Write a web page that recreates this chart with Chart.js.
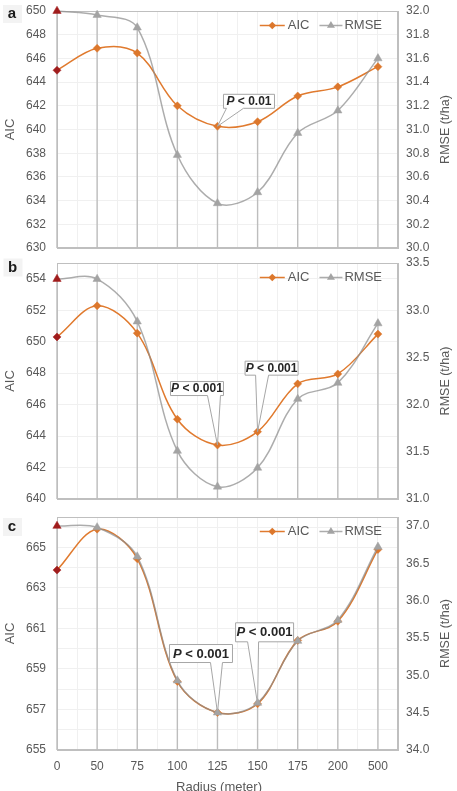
<!DOCTYPE html>
<html><head><meta charset="utf-8">
<script src="https://cdn.jsdelivr.net/npm/chart.js@4.4.1/dist/chart.umd.min.js"></script>
<style>
html,body{margin:0;padding:0;background:#fff;width:457px;height:791px;overflow:hidden}
canvas{position:absolute;left:0}
</style></head><body>
<canvas id="ca" width="457" height="256" style="top:0px"></canvas>
<canvas id="cb" width="457" height="252" style="top:256px"></canvas>
<canvas id="cc" width="457" height="283" style="top:508px"></canvas>
<script>
// ---- data ----
const radiusLabels = ['0', '50', '75', '100', '125', '150', '175', '200', '500'];
const aicA  = [645.0, 646.85, 646.45, 642.0, 640.27, 640.66, 642.83, 643.6, 645.3];
const rmseA = [32.0, 31.966, 31.86, 30.785, 30.377, 30.47, 30.97, 31.16, 31.6];
const aicB  = [650.3, 652.28, 650.54, 645.07, 643.43, 644.28, 647.32, 647.95, 650.48];
const rmseB = [33.33, 33.33, 32.88, 31.51, 31.13, 31.33, 32.06, 32.23, 32.86];
const aicC  = [663.88, 665.9, 664.44, 658.38, 656.85, 657.28, 660.41, 661.35, 664.9];
const rmseC = [37.0, 36.98, 36.59, 34.93, 34.5, 34.63, 35.46, 35.74, 36.72];
const seriesNames = ['AIC', 'RMSE'];
const pTextA = ['P', ' < 0.01'];
const pTextB = ['P', ' < 0.001'];

// ---- style ----
const FONT = '"Liberation Sans", Arial, Helvetica, sans-serif';
const TXT = '#595959';
const ORANGE = '#E07A2E';
const ORANGE_PT = '#DC772C';
const GRAY_LINE = 'rgba(140,140,140,0.72)';
const GRAY_PT = '#a3a3a3';
const DARKRED = '#A01C1C';
const GRID = '#f0f0f0';
const FRAME = '#bfbfbf';

function diamond(ctx, x, y, r, c) {
  ctx.beginPath(); ctx.moveTo(x - r, y); ctx.lineTo(x, y - r); ctx.lineTo(x + r, y); ctx.lineTo(x, y + r);
  ctx.closePath(); ctx.fillStyle = c; ctx.fill();
}
function triangle(ctx, x, y, r, c) {
  ctx.beginPath();
  for (let k = 0; k < 3; k++) {
    const a = k * 2 * Math.PI / 3;
    const px = x + Math.sin(a) * r, py = y - Math.cos(a) * r;
    k ? ctx.lineTo(px, py) : ctx.moveTo(px, py);
  }
  ctx.closePath(); ctx.fillStyle = c; ctx.fill();
}
function noPad(s) { s.paddingTop = 0; s.paddingBottom = 0; s.paddingLeft = 0; s.paddingRight = 0; }

function makePanel(cfg) {
  const canvas = document.getElementById(cfg.id);
  const decor = {
    id: 'decor',
    beforeDatasetsDraw(chart) {
      const {ctx, chartArea: a, scales: {x, y, y2}} = chart;
      ctx.save();
      // frame
      ctx.strokeStyle = FRAME; ctx.lineWidth = 1;
      ctx.strokeRect(Math.round(a.left) + 0.5, Math.round(a.top) + 0.5, Math.round(a.right - a.left) - 1, Math.round(a.bottom - a.top) - 1);
      // drop lines
      ctx.strokeStyle = '#bdbdbd'; ctx.lineWidth = 1.4;
      cfg.aic.forEach((v, i) => {
        const px = x.getPixelForValue(i);
        const top = Math.min(y.getPixelForValue(v), y2.getPixelForValue(cfg.rmse[i]));
        ctx.beginPath(); ctx.moveTo(px, a.bottom); ctx.lineTo(px, top); ctx.stroke();
      });
      ctx.restore();
    },
    afterDraw(chart) {
      const {ctx, chartArea: a, scales: {x, y}} = chart;
      ctx.save();
      // callouts
      cfg.callouts.forEach(c => {
        const px = x.getPixelForValue(c.idx), py = y.getPixelForValue(cfg.aic[c.idx]);
        const cx = px + c.dx, cy = py + c.dy;
        const L = cx - c.w / 2, R = cx + c.w / 2, T = cy - c.h / 2, B = cy + c.h / 2;
        ctx.beginPath();
        ctx.moveTo(L, T); ctx.lineTo(R, T); ctx.lineTo(R, B);
        ctx.lineTo(px + c.b2, B); ctx.lineTo(px, py); ctx.lineTo(px + c.b1, B);
        ctx.lineTo(L, B); ctx.closePath();
        ctx.fillStyle = '#ffffff'; ctx.fill();
        ctx.strokeStyle = '#a6a6a6'; ctx.lineWidth = 1; ctx.stroke();
        const f1 = `italic bold ${c.fs}px ${FONT}`, f2 = `bold ${c.fs}px ${FONT}`;
        ctx.font = f1; const w1 = ctx.measureText(c.text[0]).width;
        ctx.font = f2; const w2 = ctx.measureText(c.text[1]).width;
        const sx = cx - (w1 + w2) / 2;
        ctx.textBaseline = 'middle'; ctx.textAlign = 'left'; ctx.fillStyle = '#262626';
        ctx.font = f1; ctx.fillText(c.text[0], sx, cy + 0.5);
        ctx.font = f2; ctx.fillText(c.text[1], sx + w1, cy + 0.5);
      });
      // legend
      ctx.font = `13px ${FONT}`; ctx.textBaseline = 'middle'; ctx.textAlign = 'left'; ctx.fillStyle = TXT;
      const ly = a.top + 14.5;
      const xr = a.right - 16;
      const wR = ctx.measureText(seriesNames[1]).width;
      ctx.fillText(seriesNames[1], xr - wR, ly);
      const g2 = xr - wR - 2, g1 = g2 - 23;
      ctx.strokeStyle = GRAY_LINE; ctx.lineWidth = 1.5;
      ctx.beginPath(); ctx.moveTo(g1, ly); ctx.lineTo(g2, ly); ctx.stroke();
      triangle(ctx, (g1 + g2) / 2, ly, 4.6, GRAY_PT);
      ctx.fillStyle = TXT;
      const wA = ctx.measureText(seriesNames[0]).width;
      const ax = g1 - 10 - wA;
      ctx.fillText(seriesNames[0], ax, ly);
      const o2 = ax - 3, o1 = o2 - 25;
      ctx.strokeStyle = ORANGE; ctx.lineWidth = 1.5;
      ctx.beginPath(); ctx.moveTo(o1, ly); ctx.lineTo(o2, ly); ctx.stroke();
      diamond(ctx, (o1 + o2) / 2, ly, 3.8, ORANGE_PT);
      // panel letter
      ctx.fillStyle = '#f3f3f3';
      ctx.fillRect(cfg.letterX - 9, cfg.letterY - 9, 19, 18);
      ctx.fillStyle = '#1a1a1a'; ctx.font = `bold 15px ${FONT}`; ctx.textAlign = 'center';
      ctx.fillText(cfg.letter, cfg.letterX, cfg.letterY);
      // axis titles
      const cyA = (a.top + a.bottom) / 2;
      ctx.fillStyle = TXT;
      ctx.save(); ctx.translate(10.5, cyA); ctx.rotate(-Math.PI / 2);
      ctx.font = `13px ${FONT}`; ctx.fillText('AIC', 0, 0); ctx.restore();
      ctx.save(); ctx.translate(446, cyA); ctx.rotate(-Math.PI / 2);
      ctx.font = `12.5px ${FONT}`; ctx.fillText('RMSE (t/ha)', 0, 0); ctx.restore();
      if (cfg.showX) {
        ctx.font = `13px ${FONT}`; ctx.textAlign = 'center';
        ctx.fillText('Radius (meter)', 219, chart.height - 4);
      }
      ctx.restore();
    }
  };

  const labelFn = (base, step, maxL, dec) => function (v) {
    const k = (v - base) / step;
    if (Math.abs(k - Math.round(k)) > 1e-6 || v > maxL + 1e-6) return '';
    return dec ? v.toFixed(dec) : String(Math.round(v));
  };

  new Chart(canvas, {
    type: 'line',
    data: {
      datasets: [
        {
          label: seriesNames[1], yAxisID: 'y2', order: 0, clip: false,
          data: cfg.rmse.map((v, i) => ({x: i, y: v})),
          borderColor: GRAY_LINE, borderWidth: 1.5, tension: 0.35,
          pointStyle: 'triangle', pointRadius: 4.8,
          pointBackgroundColor: cfg.rmse.map((v, i) => i === 0 ? DARKRED : GRAY_PT),
          pointBorderColor: cfg.rmse.map((v, i) => i === 0 ? DARKRED : GRAY_PT), pointBorderWidth: 0.5
        },
        {
          label: seriesNames[0], yAxisID: 'y', order: 1, clip: false,
          data: cfg.aic.map((v, i) => ({x: i, y: v})),
          borderColor: ORANGE, borderWidth: 1.5, tension: 0.35,
          pointStyle: 'rectRot', pointRadius: 4,
          pointBackgroundColor: cfg.aic.map((v, i) => i === 0 ? DARKRED : ORANGE_PT),
          pointBorderColor: cfg.aic.map((v, i) => i === 0 ? DARKRED : ORANGE_PT), pointBorderWidth: 0.5
        }
      ]
    },
    options: {
      responsive: false, animation: false, devicePixelRatio: 1, events: [],
      layout: {padding: {top: cfg.padTop, left: 0, right: 0, bottom: 0}},
      plugins: {legend: {display: false}, tooltip: {enabled: false}},
      scales: {
        x: {
          type: 'linear', min: 0, max: 8.5,
          afterFit: s => { s.height = cfg.xH; noPad(s); },
          grid: {color: GRID, drawTicks: false},
          border: {color: FRAME, width: 1},
          ticks: {
            display: cfg.showX, stepSize: 0.5, autoSkip: false, maxRotation: 0, padding: 9,
            color: TXT, font: {family: FONT, size: 12},
            callback: v => (Number.isInteger(v) && v < radiusLabels.length) ? radiusLabels[v] : ''
          }
        },
        y: {
          position: 'left', min: cfg.left.min, max: cfg.left.max,
          afterFit: s => { s.width = 57; noPad(s); },
          grid: {color: GRID, drawTicks: false},
          border: {color: FRAME, width: 1},
          ticks: {
            stepSize: cfg.left.step, includeBounds: false, padding: 11, color: TXT,
            font: {family: FONT, size: 12},
            callback: labelFn(cfg.left.min, cfg.left.lstep, cfg.left.lmax, 0)
          }
        },
        y2: {
          position: 'right', min: cfg.right.min, max: cfg.right.max,
          afterFit: s => { s.width = 59; noPad(s); },
          grid: {display: false, drawTicks: false},
          border: {color: FRAME, width: 1},
          ticks: {
            stepSize: cfg.right.step, includeBounds: false, padding: 8, color: TXT,
            font: {family: FONT, size: 12},
            callback: labelFn(cfg.right.min, cfg.right.step, cfg.right.lmax, 1)
          }
        }
      }
    },
    plugins: [decor]
  });
}

makePanel({
  id: 'ca', aic: aicA, rmse: rmseA, padTop: 11, xH: 8, showX: false,
  letter: 'a', letterX: 12, letterY: 14,
  left: {min: 630, max: 650, step: 1, lstep: 2, lmax: 650},
  right: {min: 30, max: 32, step: 0.2, lmax: 32},
  callouts: [{idx: 4, dx: 31.5, dy: -25, w: 51, h: 14, b1: 9, b2: 26, fs: 12, text: pTextA}]
});
makePanel({
  id: 'cb', aic: aicB, rmse: rmseB, padTop: 7, xH: 9, showX: false,
  letter: 'b', letterX: 12.5, letterY: 11.5,
  left: {min: 640, max: 655, step: 1, lstep: 2, lmax: 654},
  right: {min: 31, max: 33.5, step: 0.5, lmax: 33.5},
  callouts: [
    {idx: 4, dx: -20.5, dy: -56.5, w: 53, h: 14, b1: -10, b2: 3, fs: 12, text: pTextB},
    {idx: 5, dx: 14, dy: -63.5, w: 53, h: 14, b1: -2, b2: 11, fs: 12, text: pTextB}
  ]
});
makePanel({
  id: 'cc', aic: aicC, rmse: rmseC, padTop: 9, xH: 41, showX: true,
  letter: 'c', letterX: 12, letterY: 19,
  left: {min: 655, max: 666.5, step: 1, lstep: 2, lmax: 665},
  right: {min: 34, max: 37.12, step: 0.5, lmax: 37},
  callouts: [
    {idx: 4, dx: -16.5, dy: -59, w: 63, h: 18, b1: -7, b2: 5, fs: 13, text: pTextB},
    {idx: 5, dx: 7, dy: -71.5, w: 58, h: 19, b1: -10, b2: 1, fs: 13, text: pTextB}
  ]
});
</script>
</body></html>
